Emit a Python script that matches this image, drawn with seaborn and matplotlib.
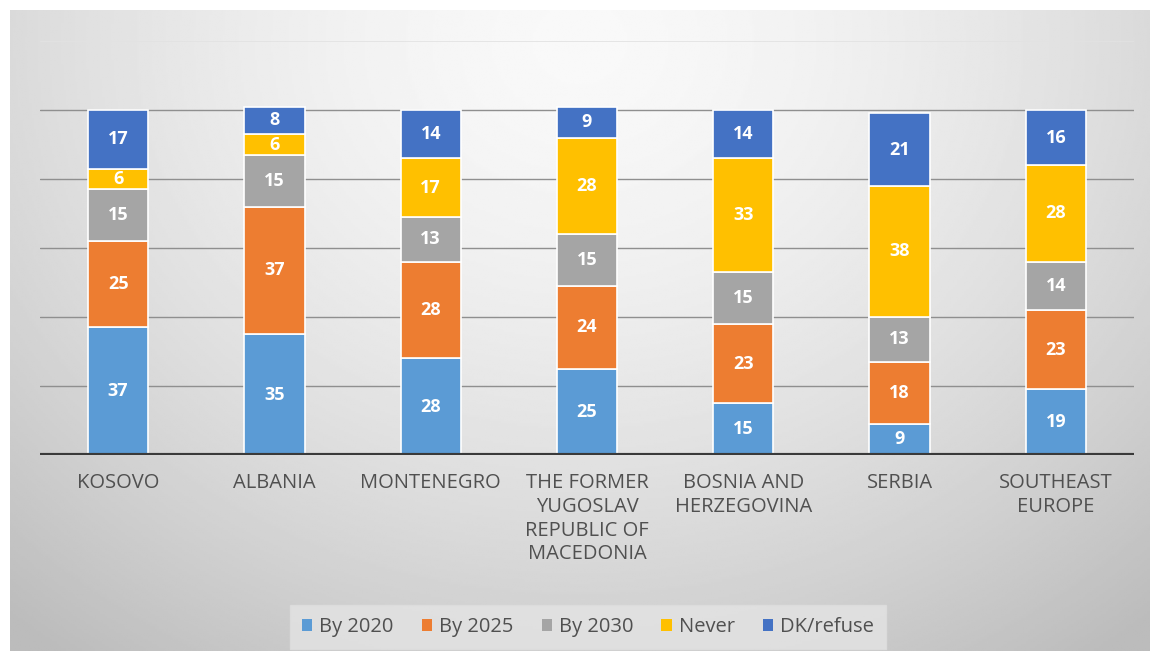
import numpy as np
import pandas as pd
import seaborn as sns
import matplotlib.pyplot as plt
from matplotlib.patches import Patch

countries = ["KOSOVO", "ALBANIA", "MONTENEGRO",
             "THE FORMER\nYUGOSLAV\nREPUBLIC OF\nMACEDONIA",
             "BOSNIA AND\nHERZEGOVINA", "SERBIA", "SOUTHEAST\nEUROPE"]
series = ["By 2020", "By 2025", "By 2030", "Never", "DK/refuse"]
by_2020 = [37, 35, 28, 25, 15, 9, 19]
by_2025 = [25, 37, 28, 24, 23, 18, 23]
by_2030 = [15, 15, 13, 15, 15, 13, 14]
never = [6, 6, 17, 28, 33, 38, 28]
dk_refuse = [17, 8, 14, 9, 14, 21, 16]
colors = ["#5B9BD5", "#ED7D31", "#A5A5A5", "#FFC000", "#4472C4"]

values = [by_2020, by_2025, by_2030, never, dk_refuse]

sns.set_theme(style="white")
plt.rcParams["font.family"] = ["Open Sans", "DejaVu Sans"]

fig = plt.figure(figsize=(11.59, 6.61), dpi=100)
fig.patch.set_facecolor("white")

# gradient panel behind the chart (light at top centre, grey to the edges)
bg = fig.add_axes([10 / 1159, 10 / 661, 1140 / 1159, 641 / 661])
yy, xx = np.mgrid[-1:1:300j, -1:1:500j]
r = np.sqrt((xx / 1.1) ** 2 + ((yy + 0.9) / 1.7) ** 2)
shade = 0.975 - 0.14 * np.clip(r, 0, 1.4) ** 1.6
bg.imshow(shade, cmap="gray", vmin=0, vmax=1, aspect="auto", extent=[0, 1, 0, 1])
bg.set_axis_off()

ax = fig.add_axes([40 / 1159, 1 - 455 / 661, 1094 / 1159, 414 / 661])
ax.patch.set_alpha(0)

df = pd.DataFrame({"country": countries})
bottom = np.zeros(len(countries))
for name, vals, col in zip(series, values, colors):
    df["value"] = vals
    sns.barplot(data=df, x="country", y="value", order=countries, color=col,
                width=0.385, bottom=bottom, edgecolor="white", linewidth=1.2,
                saturation=1, ax=ax, zorder=3)
    for i, v in enumerate(vals):
        ax.text(i, bottom[i] + v / 2, str(v), ha="center", va="center",
                color="white", fontsize=13, fontweight="bold", zorder=4)
    bottom = bottom + np.array(vals)

ax.set_ylim(0, 120)
ax.set_xlim(-0.5, len(countries) - 0.5)
for y in [20, 40, 60, 80, 100]:
    ax.axhline(y, color="#8f8f8f", lw=1, zorder=1)
ax.axhline(120, color="#e2e2e2", lw=1.2, zorder=1)
ax.axhline(0, color="#3a3a3a", lw=3, zorder=5)
ax.set_yticks([])
ax.set_xlabel("")
ax.set_ylabel("")
ax.tick_params(axis="x", length=0, pad=13, labelsize=14.5, labelcolor="#505050")
for lbl in ax.get_xticklabels():
    lbl.set_linespacing(1.25)
for s in ax.spines.values():
    s.set_visible(False)

handles = [Patch(facecolor=c, edgecolor="none") for c in colors]
leg = fig.legend(handles, series, loc="center", bbox_to_anchor=(588 / 1159, 1 - 627 / 661),
                 ncol=5, frameon=True, fontsize=14.5, handlelength=0.5, handleheight=0.5,
                 handletextpad=0.35, columnspacing=1.4, borderpad=0.3)
leg.get_frame().set_facecolor("#e4e4e4")
leg.get_frame().set_edgecolor("#dedede")
leg.get_frame().set_boxstyle("square")
for t in leg.get_texts():
    t.set_color("#505050")

fig.savefig("out.png", dpi=100)
